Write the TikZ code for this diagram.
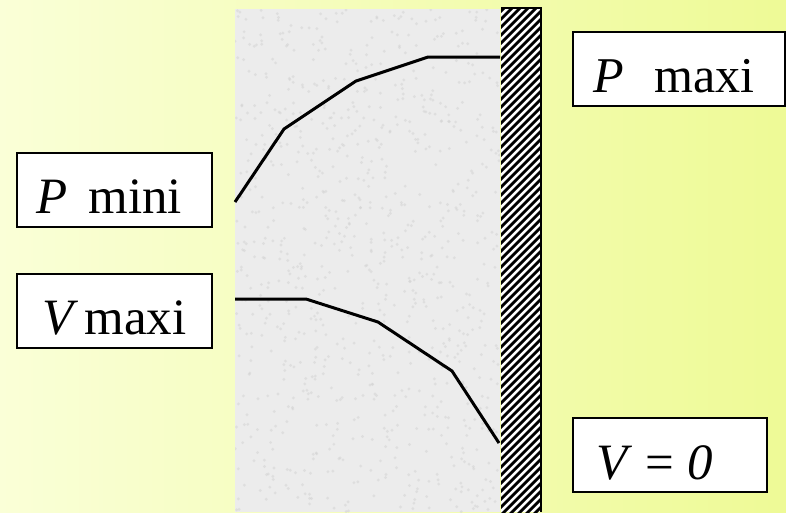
\documentclass[tikz,border=0pt]{standalone}
\usepackage{fontspec}
\setmainfont{Liberation Serif}
\usetikzlibrary{positioning}

\definecolor{bgleft}{RGB}{250,255,215}
\definecolor{bgright}{RGB}{238,250,150}
\definecolor{wallgray}{RGB}{236,236,236}

\begin{document}
\begin{tikzpicture}[
  x=0.02cm, y=-0.02cm,
  label box/.style={
    draw,
    fill=white,
    line width=0.8pt,
    inner sep=0pt,
    minimum height=1.48cm,
    text height=27.3pt,
    text depth=0pt,
    font=\fontsize{29}{34}\selectfont
  },
  profile/.style={line width=1.7pt, line join=miter},
  hatch/.style={line width=1.6pt}
]

% --- Background ---
\shade[left color=bgleft, right color=bgright] (0,0) rectangle (786,512);
\useasboundingbox (0,0) rectangle (786,512);

% --- Porous layer (gray, speckled) ---
\fill[wallgray] (235,9) rectangle (500,512);
\pgfmathsetseed{11}
\begin{scope}
  \clip (235,9) rectangle (500,512);
  \foreach \i in {1,...,900} {
    \pgfmathsetmacro{\xx}{235+265*rnd}
    \pgfmathsetmacro{\yy}{9+503*rnd}
    \fill[gray!35, opacity=0.5] (\xx,\yy) circle (1.6);
  }
\end{scope}

% --- Wall (hatched) ---
\fill[white] (501,8) rectangle (541,512);
\begin{scope}
  \clip (501,8) rectangle (541,512);
  \foreach \y in {8,16,...,560} {
    \draw[hatch] (496,\y) -- (545,\y-49);
  }
\end{scope}
\draw[line width=1pt] (501,8) -- (541,8) -- (541,512);

% --- Profiles ---
\draw[profile] (235,202) -- (284,129) -- (356,81) -- (428,57) -- (500,57);
\draw[profile] (235,299) -- (306,299) -- (378,322) -- (452,371) -- (499,443);

% --- Labels ---
\node[label box, minimum width=3.9cm] (pmini) at (114.5,190)
  {\textit{P}\hspace{0.4em}mini\kern0.2em};
\node[label box, minimum width=3.9cm] (vmaxi) at (114.5,311)
  {\textit{V}\hspace{0.12em}maxi};
\node[label box, minimum width=4.24cm, font=\fontsize{28.5}{33}\selectfont] (pmaxi) at (679,69)
  {\textit{P}\hspace{0.6em}maxi\kern0.2em};
\node[label box, minimum width=3.88cm] (vzero) at (670,455)
  {\textit{V} = \textit{0}\kern0.6em};

\end{tikzpicture}
\end{document}
